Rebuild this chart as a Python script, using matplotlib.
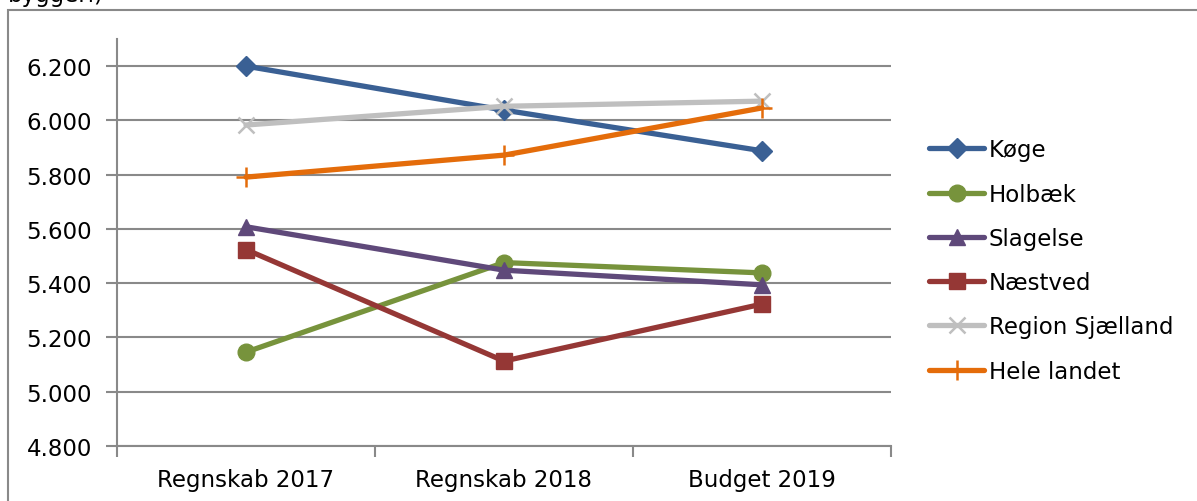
import matplotlib
matplotlib.use("Agg")
import matplotlib.pyplot as plt
from matplotlib.patches import Rectangle

categories = ["Regnskab 2017", "Regnskab 2018", "Budget 2019"]
koege = [6200, 6038, 5888]
holbaek = [5146, 5476, 5438]
slagelse = [5608, 5448, 5394]
naestved = [5524, 5113, 5323]
region = [5983, 6052, 6071]
hele = [5791, 5872, 6046]
yticks = [4800, 5000, 5200, 5400, 5600, 5800, 6000, 6200]

series = [
    ("Køge", koege, "#3A6094", "D", 10),
    ("Holbæk", holbaek, "#77933C", "o", 12),
    ("Slagelse", slagelse, "#5F497A", "^", 12),
    ("Næstved", naestved, "#953735", "s", 11.5),
    ("Region Sjælland", region, "#BFBFBF", "x", 12),
    ("Hele landet", hele, "#E46C0A", "+", 14),
]

W, H = 1197, 502
fig = plt.figure(figsize=(W / 100, H / 100), dpi=100)
plt.rcParams["font.family"] = ["DejaVu Sans"]
fs = 16.5

ax = fig.add_axes([117 / W, (H - 447) / H, (891 - 117) / W, (447 - 40) / H])
x = list(range(len(categories)))
handles = []
for name, vals, col, mk, ms in series:
    mew = 1.8 if mk in ("x", "+") else 1
    ln, = ax.plot(x, vals, color=col, lw=3.8, marker=mk, ms=ms, mfc=col, mec=col,
                  mew=mew, label=name, solid_capstyle="round", zorder=3)
    handles.append(ln)

ax.set_xlim(-0.5, 2.5)
ax.set_ylim(4800, 6300)
ax.set_yticks(yticks)
ax.set_yticklabels([f"{v/1000:.3f}" for v in yticks], fontsize=fs)
ax.yaxis.grid(True, color="#898989", lw=1.5, zorder=0)
ax.set_xticks([-0.5, 0.5, 1.5, 2.5])
ax.set_xticklabels([])
ax.set_xticks(x, minor=True)
ax.set_xticklabels(categories, minor=True, fontsize=fs)
ax.tick_params(axis="x", which="minor", length=0, pad=16)
ax.tick_params(axis="x", which="major", length=8, width=1.5, color="#898989", direction="out")
ax.tick_params(axis="y", length=8, width=1.5, color="#898989", direction="out", pad=10)
for s in ["top", "right"]:
    ax.spines[s].set_visible(False)
for s in ["left", "bottom"]:
    ax.spines[s].set_color("#898989")
    ax.spines[s].set_linewidth(1.5)

leg = fig.legend(handles=handles, loc="center left", bbox_to_anchor=(929 / W, (H - 261.5) / H),
                 frameon=False, fontsize=fs, handlelength=2.4, handletextpad=0.2,
                 labelspacing=0.93, borderpad=0, borderaxespad=0)

fig.patches.append(Rectangle((8 / W, -0.1), 1.2, (H - 11) / H + 0.1, transform=fig.transFigure,
                             fill=False, ec="#898989", lw=1.5))
fig.text(8 / W, 1 - 2 / H, "byggeri)", fontsize=fs, va="baseline", ha="left")

fig.savefig("out.png", dpi=100)
